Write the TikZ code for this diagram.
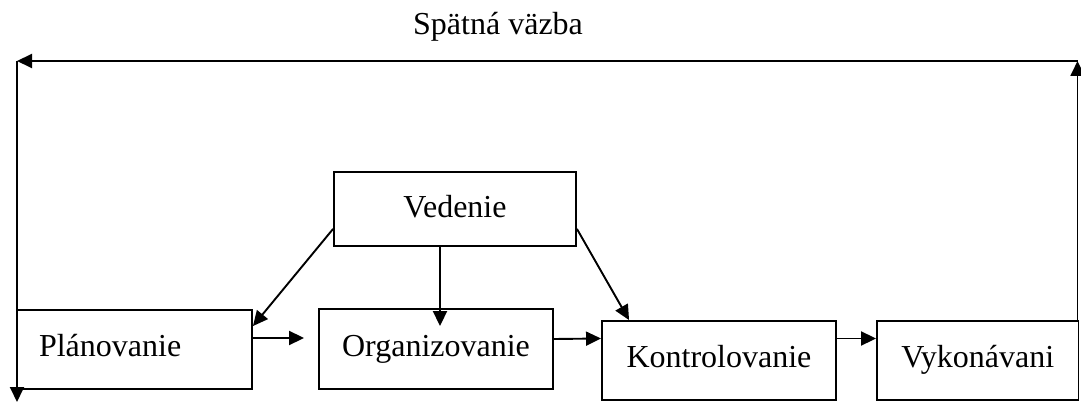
\documentclass[tikz,border=0pt]{standalone}
\usepackage{fontspec}
\setmainfont{Liberation Serif}
\usetikzlibrary{arrows.meta}
\begin{document}
\begin{tikzpicture}[x=1pt,y=-1pt,
  every node/.style={font=\fontsize{32}{38}\selectfont},
  box/.style={draw,line width=1.9pt,inner sep=0pt,
    text height=14pt,text depth=0pt},
  link/.style={line width=1.9pt,-{Triangle[length=15pt,width=14pt]}}]
  \useasboundingbox (0,0) rectangle (1081,403);

  % boxes
  \node[box,minimum width=242pt,minimum height=74pt,text height=18pt] (ved) at (455,209) {Vedenie};
  \node[box,minimum width=235pt,minimum height=79pt,
        text width=191pt,align=left] (pla) at (134.5,349.5) {Plánovanie};
  \node[box,minimum width=234pt,minimum height=80pt] (org) at (436,349) {Organizovanie};
  \node[box,minimum width=234pt,minimum height=79pt] (kon) at (719,360.5) {Kontrolovanie};
  \node[box,minimum width=201.5pt,minimum height=79pt] (vyk) at (977.75,360.5) {Vykonávani};

  % feedback loop corners
  \coordinate (tr) at (1077.5,61);
  \coordinate (tl) at (17,61);
  \coordinate (bl) at (17,402);
  \node[anchor=base west,inner sep=0pt] (fb) at (413,35) {Spätná väzba};

  % arrows from Vedenie
  \draw[link] ([yshift=18pt]ved.south west) -- ([yshift=-17pt]pla.north east);
  \draw[link] ([xshift=-15pt]ved.south) -- ([xshift=4pt,yshift=-18pt]org.north);
  \draw[link] ([yshift=18pt]ved.south east) -- ([xshift=28pt]kon.north west);

  % process chain
  \draw[link] ([yshift=11.5pt]pla.east) -- ([xshift=-14pt,yshift=11pt]org.west);
  \draw[link] ([yshift=10pt]org.east) -- ([yshift=22pt]kon.west);
  \draw[link] ([yshift=22pt]kon.east) -- ([yshift=22pt]vyk.west);

  % feedback
  \draw[link] (vyk.north east -| tr) -- (tr);
  \draw[link] (tr) -- (tl);
  \draw[link] (tl) -- (bl);
\end{tikzpicture}
\end{document}
